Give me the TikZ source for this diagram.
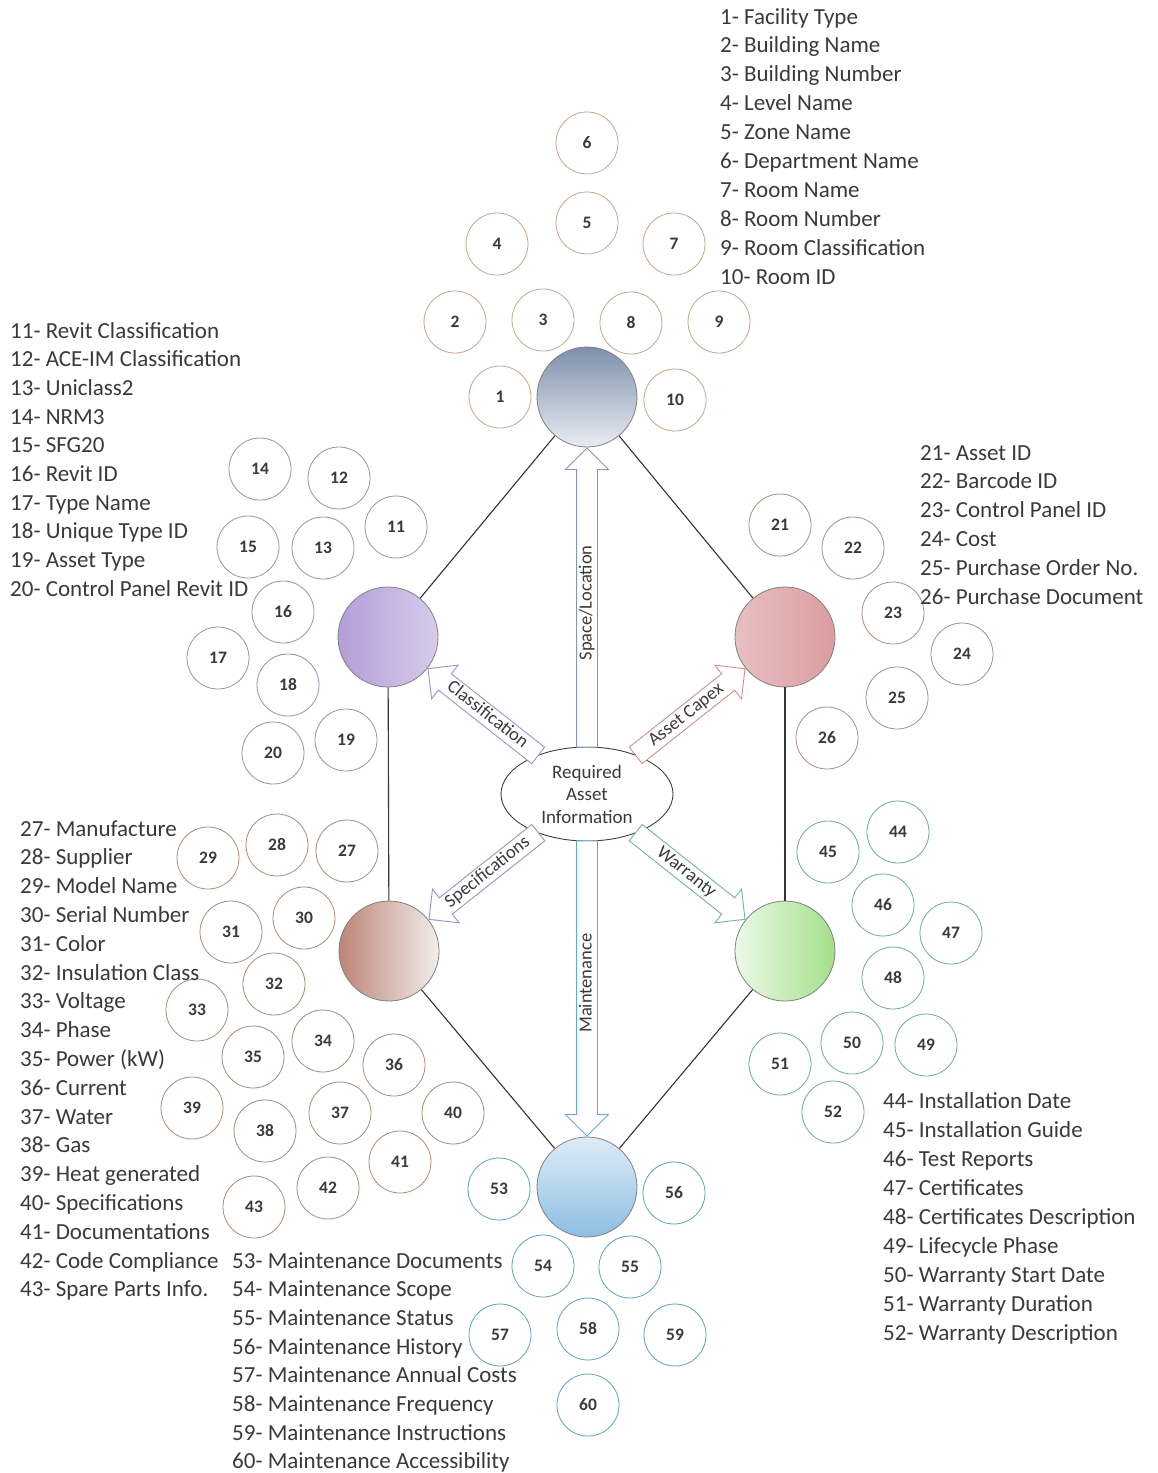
\documentclass[tikz,border=0pt]{standalone}
\usepackage{fontspec}
\setmainfont{Carlito}
\usetikzlibrary{positioning,shapes.geometric,shapes.arrows,calc}

\definecolor{txtgray}{HTML}{3A3A3A}
\definecolor{hubline}{HTML}{808080}
\definecolor{spacering}{HTML}{C9A78A}
\definecolor{classring}{HTML}{9A8FB3}
\definecolor{capexring}{HTML}{A69185}
\definecolor{specring}{HTML}{A88C7A}
\definecolor{warrring}{HTML}{6DAE94}
\definecolor{maintring}{HTML}{5BA4BA}
\definecolor{spacearr}{HTML}{8597B5}
\definecolor{classarr}{HTML}{A78CD2}
\definecolor{capexarr}{HTML}{D58C8F}
\definecolor{specarr}{HTML}{9F8FC9}
\definecolor{warrarr}{HTML}{6FB3A3}
\definecolor{maintarr}{HTML}{66A9D9}
\definecolor{warrfill}{HTML}{A3E08A}

\begin{document}
\begin{tikzpicture}[x=1pt,y=-1pt,on grid,
    hub/.style={circle,draw=hubline,line width=0.8pt,minimum size=100pt,inner sep=0pt},
    item/.style={circle,draw,line width=0.8pt,minimum size=62pt,inner sep=0pt,fill=white,
      text=txtgray,font=\fontsize{17.5}{17.5}\selectfont\bfseries},
    listtext/.style={anchor=base west,inner sep=0pt,text=txtgray,font=\fontsize{23}{26}\selectfont},
    blockarr/.style={single arrow,draw,fill=white,line width=0.9pt,sloped,allow upside down,
      anchor=tip,single arrow head extend=11pt,inner xsep=2pt,inner ysep=2pt,
      text height=12.5pt,text depth=3.5pt,text=txtgray,font=\fontsize{18.5}{18.5}\selectfont},
    tipstart/.style={shape border rotate=180},
    link/.style={draw=black!80,line width=1.1pt}]

  \useasboundingbox[fill=white] (0,0) rectangle (1158,1473);

  % centre and the six groups
  \node[ellipse,draw=black!75,line width=0.9pt,fill=white,minimum width=172pt,minimum height=94pt,
    inner sep=0pt,align=center,text=txtgray,font=\fontsize{19}{22.5}\selectfont]
    (info) at (587,794) {Required\\Asset\\Information};
  \node[hub,top color=spacearr!95!black,bottom color=spacearr!18] (space) [above = 397pt of info] {};
  \node[hub,left color=classarr!85,right color=classarr!45] (classif) [above left = 157pt and 199pt of info] {};
  \node[hub,left color=capexarr!55,right color=capexarr!85] (capex) [above right = 157pt and 198pt of info] {};
  \node[hub,left color=specring!85!red!90,right color=specring!15] (specs) [below left = 157pt and 198pt of info] {};
  \node[hub,left color=warrfill!20,right color=warrfill] (warr) [below right = 157pt and 198pt of info] {};
  \node[hub,top color=maintarr!22,bottom color=maintarr!75] (maint) [below = 393pt of info] {};

  \draw[link] (space) -- (classif);
  \draw[link] (space) -- (capex);
  \draw[link] (classif) -- (specs);
  \draw[link] (capex) -- (warr);
  \draw[link] (specs) -- (maint);
  \draw[link] (warr) -- (maint);

  % block arrows out of the centre
  \path (info) -- (space) coordinate[pos=0] (sp0) coordinate[pos=1] (sp1);
  \path let \p1=($(sp1)-(sp0)$), \n1={veclen(\x1,\y1)} in
    (sp0) -- (sp1) node[blockarr,draw=spacearr,pos=1,minimum height=\n1] {Space/Location};
  \path (maint) -- (info) coordinate[pos=0] (mt0) coordinate[pos=1] (mt1);
  \path let \p1=($(mt1)-(mt0)$), \n1={veclen(\x1,\y1)} in
    (mt0) -- (mt1) node[blockarr,tipstart,draw=maintarr,pos=0,minimum height=\n1] {Maintenance};
  \path (classif) -- (info) coordinate[pos=0] (cl0) coordinate[pos=1] (cl1);
  \path let \p1=($(cl1)-(cl0)$), \n1={veclen(\x1,\y1)} in
    (cl0) -- (cl1) node[blockarr,tipstart,draw=classarr,pos=0,minimum height=\n1] {Classification};
  \path (info) -- (capex) coordinate[pos=0] (cx0) coordinate[pos=1] (cx1);
  \path let \p1=($(cx1)-(cx0)$), \n1={veclen(\x1,\y1)} in
    (cx0) -- (cx1) node[blockarr,draw=capexarr,pos=1,minimum height=\n1] {Asset Capex};
  \path (specs) -- (info) coordinate[pos=0] (sc0) coordinate[pos=1] (sc1);
  \path let \p1=($(sc1)-(sc0)$), \n1={veclen(\x1,\y1)} in
    (sc0) -- (sc1) node[blockarr,tipstart,draw=specarr,pos=0,minimum height=\n1] {Specifications};
  \path (info) -- (warr) coordinate[pos=0] (wa0) coordinate[pos=1] (wa1);
  \path let \p1=($(wa1)-(wa0)$), \n1={veclen(\x1,\y1)} in
    (wa0) -- (wa1) node[blockarr,draw=warrarr,pos=1,minimum height=\n1] {Warranty};

  % numbered items
  \foreach \n/\x/\y in {1/500/397,2/455/322,3/543/320,4/497/244,5/587/223,
      6/587/143,7/674/244,8/631/323,9/719/322,10/675/400}
    \node[item,draw=spacering] (c\n) at (\x,\y) {\n};
  \foreach \n/\x/\y in {11/396/527,12/339/478,13/323/548,14/260/469,15/248/547,
      16/283/612,17/218/658,18/288/685,19/346/740,20/273/753}
    \node[item,draw=classring] (c\n) at (\x,\y) {\n};
  \foreach \n/\x/\y in {21/780/525,22/853/548,23/893/613,24/962/654,25/897/698,26/827/738}
    \node[item,draw=capexring] (c\n) at (\x,\y) {\n};
  \foreach \n/\x/\y in {27/347/851,28/277/845,29/208/858,30/304/918,31/231/932,
      32/274/984,33/197/1010,34/323/1041,35/253/1057,36/394/1065,37/340/1113,
      38/265/1131,39/192/1108,40/453/1113,41/400/1162,42/328/1188,43/254/1207}
    \node[item,draw=specring] (c\n) at (\x,\y) {\n};
  \foreach \n/\x/\y in {44/898/832,45/828/852,46/883/905,47/951/933,48/893/978,
      49/926/1045,50/852/1043,51/780/1064,52/833/1112}
    \node[item,draw=warrring] (c\n) at (\x,\y) {\n};
  \foreach \n/\x/\y in {53/499/1189,54/543/1266,55/630/1267,56/674/1193,
      57/500/1335,58/588/1329,59/675/1335,60/588/1405}
    \node[item,draw=maintring] (c\n) at (\x,\y) {\n};

  % legends
  \foreach \t [count=\i from 1] in {Facility Type,Building Name,Building Number,Level Name,
      Zone Name,Department Name,Room Name,Room Number,Room Classification,Room ID}
    \node[listtext] (lst\i) at (720,{24+28.9*(\i-1)}) {\i- \t};
  \foreach \t [count=\i from 11] in {Revit Classification,ACE-IM Classification,Uniclass2,
      NRM3,SFG20,Revit ID,Type Name,Unique Type ID,Asset Type,Control Panel Revit ID}
    \node[listtext] (lst\i) at (10,{338+28.7*(\i-11)}) {\i- \t};
  \foreach \t [count=\i from 21] in {Asset ID,Barcode ID,Control Panel ID,Cost,
      Purchase Order No.,Purchase Document}
    \node[listtext] (lst\i) at (920,{460+28.8*(\i-21)}) {\i- \t};
  \foreach \t [count=\i from 27] in {Manufacture,Supplier,Model Name,Serial Number,Color,
      Insulation Class,Voltage,Phase,Power (kW),Current,Water,Gas,Heat generated,
      Specifications,Documentations,Code Compliance,Spare Parts Info.}
    \node[listtext] (lst\i) at (20,{836+28.8*(\i-27)}) {\i- \t};
  \foreach \t [count=\i from 44] in {Installation Date,Installation Guide,Test Reports,
      Certificates,Certificates Description,Lifecycle Phase,Warranty Start Date,
      Warranty Duration,Warranty Description}
    \node[listtext] (lst\i) at (883,{1108+29*(\i-44)}) {\i- \t};
  \foreach \t [count=\i from 53] in {Maintenance Documents,Maintenance Scope,
      Maintenance Status,Maintenance History,Maintenance Annual Costs,
      Maintenance Frequency,Maintenance Instructions,Maintenance Accessibility}
    \node[listtext] (lst\i) at (232,{1268+28.7*(\i-53)}) {\i- \t};
\end{tikzpicture}
\end{document}
